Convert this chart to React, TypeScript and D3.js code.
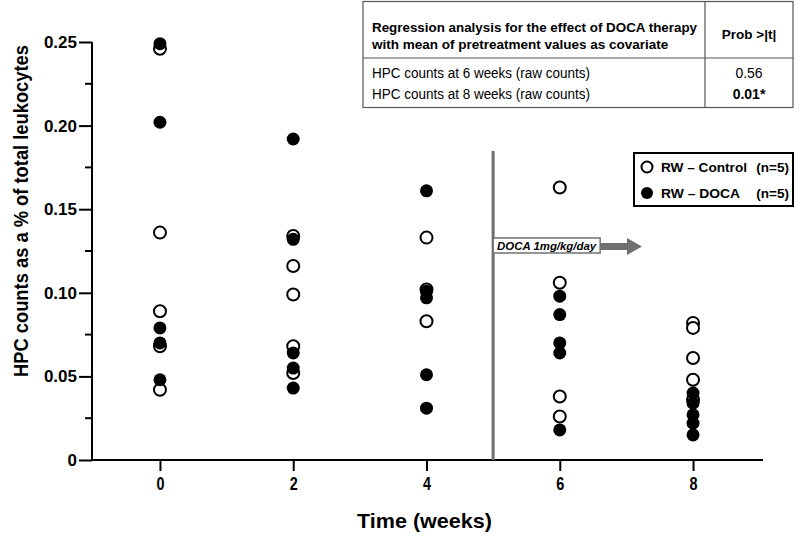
import React, { useEffect, useRef } from 'react';
import * as d3 from 'd3';

const weeks = [0, 2, 4, 6, 8];
const yTicks = [0, 0.05, 0.1, 0.15, 0.2, 0.25];
const yMinorTicks = [0.025, 0.075, 0.125, 0.175, 0.225];

// RW - Control (open circles), one list per week
const controlValues = [
	[0.246, 0.136, 0.089, 0.068, 0.042],
	[0.134, 0.116, 0.099, 0.068, 0.052],
	[0.133, 0.102, 0.083],
	[0.163, 0.106, 0.038, 0.026],
	[0.082, 0.079, 0.061, 0.048, 0.036]
];

// RW - DOCA (filled circles)
const docaValues = [
	[0.249, 0.202, 0.079, 0.07, 0.048],
	[0.192, 0.132, 0.064, 0.055, 0.043],
	[0.161, 0.101, 0.097, 0.051, 0.031],
	[0.098, 0.087, 0.07, 0.064, 0.018],
	[0.04, 0.034, 0.027, 0.022, 0.015]
];

const tableRows = [
	{ label: 'HPC counts at 6 weeks (raw counts)', prob: '0.56' },
	{ label: 'HPC counts at 8 weeks (raw counts)', prob: '0.01*' }
];

const treatmentStart = 5;

const App = () => {
	const ref = useRef<SVGSVGElement>(null);

	useEffect(() => {
		const svg = d3.select(ref.current);
		svg.selectAll('*').remove();

		const font = 'Liberation Sans, Arial, sans-serif';

		const x = d3.scaleLinear().domain([-1.02, 9.05]).range([92, 763]);
		const y = d3.scaleLinear().domain([0, 0.25]).range([460, 42]);

		// y axis
		const yAxis = svg.append('g').attr('transform', `translate(${x(-1.02)},0)`);
		yAxis
			.call(
				d3
					.axisLeft(y)
					.tickValues(yTicks)
					.tickSize(13)
					.tickFormat(d => (d === 0 ? '0' : d3.format('.2f')(d as number)))
			)
			.call(g => g.select('.domain').attr('stroke-width', 2).attr('d', `M0,${y(0.25)}V${y(0)}`));
		yAxis.selectAll('.tick line').attr('stroke-width', 2);
		yAxis
			.selectAll('.tick text')
			.attr('x', -15)
			.attr('font-family', font)
			.attr('font-weight', 'bold')
			.attr('font-size', 17)
			.attr('fill', '#000');
		yAxis
			.selectAll('.minor')
			.data(yMinorTicks)
			.enter()
			.append('line')
			.attr('x1', -7)
			.attr('x2', 0)
			.attr('y1', d => y(d))
			.attr('y2', d => y(d))
			.attr('stroke', '#000')
			.attr('stroke-width', 2);

		// x axis
		const xAxis = svg.append('g').attr('transform', `translate(0,${y(0)})`);
		xAxis
			.call(d3.axisBottom(x).tickValues(weeks).tickSize(11).tickFormat(d3.format('d')))
			.call(g => g.select('.domain').attr('stroke-width', 2).attr('d', `M${x(-1.02)},0H${x(9.05)}`));
		xAxis.selectAll('.tick line').attr('stroke-width', 2);
		xAxis
			.selectAll('.tick text')
			.attr('y', 17)
			.attr('transform', 'scale(0.8,1)')
			.attr('font-family', font)
			.attr('font-weight', 'bold')
			.attr('font-size', 18)
			.attr('fill', '#000');

		// axis titles
		svg.append('text')
			.attr('transform', `translate(28,${y(0.125) - 40}) rotate(-90)`)
			.attr('text-anchor', 'middle')
			.attr('font-family', font)
			.attr('font-weight', 'bold')
			.attr('font-size', 19.5)
			.attr('textLength', 332)
			.attr('lengthAdjust', 'spacingAndGlyphs')
			.text('HPC counts as a % of total leukocytes');

		svg.append('text')
			.attr('x', x(4) - 2)
			.attr('y', 528)
			.attr('text-anchor', 'middle')
			.attr('font-family', font)
			.attr('font-weight', 'bold')
			.attr('font-size', 21)
			.attr('textLength', 135)
			.attr('lengthAdjust', 'spacingAndGlyphs')
			.text('Time (weeks)');

		// treatment start line
		svg.append('line')
			.attr('x1', x(treatmentStart))
			.attr('x2', x(treatmentStart))
			.attr('y1', 151)
			.attr('y2', y(0))
			.attr('stroke', '#707070')
			.attr('stroke-width', 3);

		// DOCA label with arrow
		const arrow = svg.append('g');
		arrow.append('rect')
			.attr('x', x(treatmentStart))
			.attr('y', 238)
			.attr('width', 107)
			.attr('height', 15)
			.attr('fill', '#fff')
			.attr('stroke', '#707070')
			.attr('stroke-width', 1.5);
		arrow.append('text')
			.attr('x', x(treatmentStart) + 4)
			.attr('y', 250)
			.attr('font-family', font)
			.attr('font-weight', 'bold')
			.attr('font-style', 'italic')
			.attr('font-size', 11)
			.attr('textLength', 99)
			.attr('lengthAdjust', 'spacingAndGlyphs')
			.text('DOCA 1mg/kg/day');
		arrow.append('path')
			.attr('d', 'M600,243H627V238L642,246.5L627,255V250H600Z')
			.attr('fill', '#707070');

		// points: control first, DOCA on top
		const control = weeks.flatMap((w, i) => controlValues[i].map(v => ({ w, v })));
		const doca = weeks.flatMap((w, i) => docaValues[i].map(v => ({ w, v })));

		svg.append('g')
			.selectAll('circle')
			.data(control)
			.enter()
			.append('circle')
			.attr('cx', d => x(d.w))
			.attr('cy', d => y(d.v))
			.attr('r', 6)
			.attr('fill', '#fff')
			.attr('stroke', '#000')
			.attr('stroke-width', 2);

		svg.append('g')
			.selectAll('circle')
			.data(doca)
			.enter()
			.append('circle')
			.attr('cx', d => x(d.w))
			.attr('cy', d => y(d.v))
			.attr('r', 6.5)
			.attr('fill', '#000');

		// legend
		const legend = svg.append('g');
		legend.append('rect')
			.attr('x', 634)
			.attr('y', 153)
			.attr('width', 159)
			.attr('height', 53)
			.attr('fill', '#fff')
			.attr('stroke', '#000')
			.attr('stroke-width', 2);
		legend.append('circle')
			.attr('cx', 647)
			.attr('cy', 167)
			.attr('r', 5.5)
			.attr('fill', '#fff')
			.attr('stroke', '#000')
			.attr('stroke-width', 2);
		legend.append('circle')
			.attr('cx', 647)
			.attr('cy', 193)
			.attr('r', 6)
			.attr('fill', '#000');
		const legendText = (ty: number, name: string, len: number) => {
			legend.append('text')
				.attr('x', 661)
				.attr('y', ty)
				.attr('font-family', font)
				.attr('font-weight', 'bold')
				.attr('font-size', 13.5)
				.attr('textLength', len)
				.attr('lengthAdjust', 'spacingAndGlyphs')
				.text(name);
			legend.append('text')
				.attr('x', 789)
				.attr('y', ty)
				.attr('text-anchor', 'end')
				.attr('font-family', font)
				.attr('font-weight', 'bold')
				.attr('font-size', 13.5)
				.text('(n=5)');
		};
		legendText(172, 'RW \u2013 Control', 86);
		legendText(198, 'RW \u2013 DOCA', 79);

		// regression table
		const table = svg.append('g');
		table.append('rect')
			.attr('x', 363)
			.attr('y', 1.5)
			.attr('width', 430)
			.attr('height', 106)
			.attr('fill', '#fff')
			.attr('stroke', '#555')
			.attr('stroke-width', 1.2);
		table.append('line')
			.attr('x1', 363).attr('x2', 793)
			.attr('y1', 58).attr('y2', 58)
			.attr('stroke', '#555').attr('stroke-width', 1.2);
		table.append('line')
			.attr('x1', 705).attr('x2', 705)
			.attr('y1', 1.5).attr('y2', 107.5)
			.attr('stroke', '#555').attr('stroke-width', 1.2);
		table.append('text')
			.attr('x', 372)
			.attr('y', 32)
			.attr('font-family', font)
			.attr('font-weight', 'bold')
			.attr('font-size', 13.5)
			.attr('textLength', 325)
			.attr('lengthAdjust', 'spacingAndGlyphs')
			.text('Regression analysis for the effect of DOCA therapy');
		table.append('text')
			.attr('x', 372)
			.attr('y', 48.5)
			.attr('font-family', font)
			.attr('font-weight', 'bold')
			.attr('font-size', 13.5)
			.text('with mean of pretreatment values as covariate');
		table.append('text')
			.attr('x', 749)
			.attr('y', 39)
			.attr('text-anchor', 'middle')
			.attr('font-family', font)
			.attr('font-weight', 'bold')
			.attr('font-size', 13.5)
			.text('Prob >|t|');
		tableRows.forEach((row, i) => {
			table.append('text')
				.attr('x', 372)
				.attr('y', 78 + i * 21)
				.attr('font-family', font)
				.attr('font-size', 14)
				.attr('textLength', 218)
				.attr('lengthAdjust', 'spacingAndGlyphs')
				.text(row.label);
			table.append('text')
				.attr('x', 749)
				.attr('y', 78 + i * 21)
				.attr('text-anchor', 'middle')
				.attr('font-family', font)
				.attr('font-weight', i === 1 ? 'bold' : 'normal')
				.attr('font-size', 14)
				.text(row.prob);
		});
	}, []);

	return (
		<svg
			ref={ref}
			width={800}
			height={540}
			style={{ position: 'absolute', left: 0, top: 0, background: '#fff' }}
		/>
	);
};

export default App;
